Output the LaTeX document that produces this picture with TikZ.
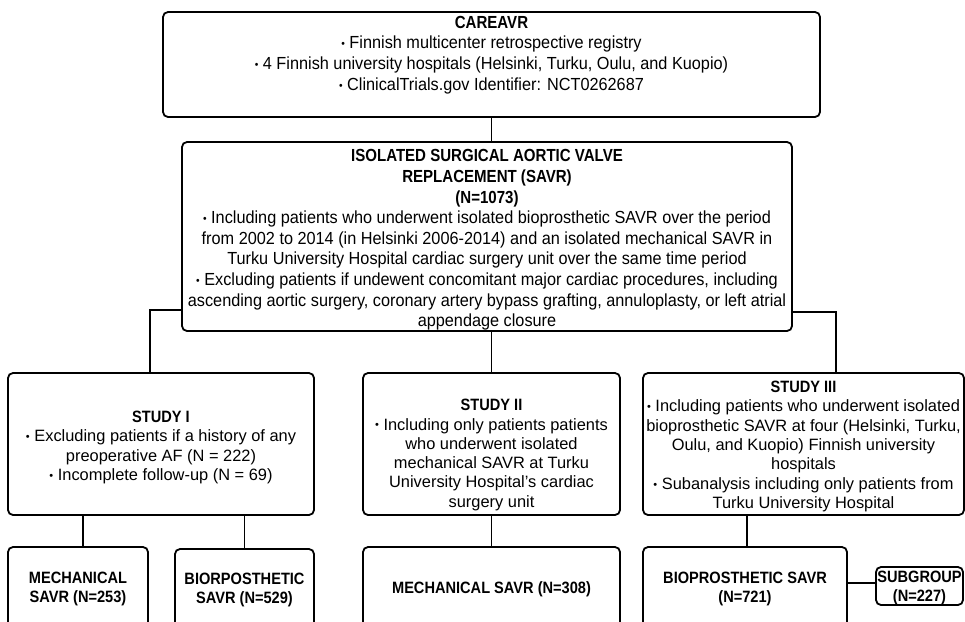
\documentclass[tikz,border=0pt]{standalone}
\usepackage{fontspec}
\setmainfont{Liberation Sans}
\newfontfamily\condfont{Liberation Sans}[FakeStretch=0.93]
\newfontfamily\condbf{Liberation Sans}[FakeStretch=0.86]
\newfontfamily\bodybf{Liberation Sans}[FakeStretch=0.89]
\usetikzlibrary{calc}
\newcommand{\bul}{{\fontsize{11}{11}\selectfont\raisebox{0.1em}{•}}\ }
\newcommand{\ctit}[1]{{\condbf\bfseries #1}}
\newcommand{\btit}[1]{{\bodybf\bfseries #1}}
\tikzset{
  box/.style={draw, line width=1.8pt, rounded corners=5pt, inner sep=0pt, align=center},
  conn/.style={line width=1.8pt},
  condtxt/.style={font=\condfont\fontsize{17.5}{20.6}\selectfont, align=center, inner sep=0pt},
  bodytxt/.style={font=\fontsize{16.4}{19.3}\selectfont, align=center, inner sep=0pt},
}
\begin{document}
\begin{tikzpicture}[x=1pt,y=-1pt]
\useasboundingbox (0,0) rectangle (965,621);
\clip (0,0) rectangle (965,621);
% boxes
\node[box, minimum width=657pt, minimum height=105pt] (top) at (491.5,64.5) {};
\node[condtxt] (toptxt) at (491.5,55) {\ctit{CAREAVR}\\
\bul Finnish multicenter retrospective registry\\
\bul 4 Finnish university hospitals (Helsinki, Turku, Oulu, and Kuopio)\\
\bul ClinicalTrials.gov Identifier: NCT0262687};
\node[box, minimum width=610pt, minimum height=189pt] (mid) at (487,236.5) {};
\node[condtxt] (midtxt) at (487,240) {\ctit{ISOLATED SURGICAL AORTIC VALVE}\\
\ctit{REPLACEMENT (SAVR)}\\
\ctit{(N=1073)}\\
\bul Including patients who underwent isolated bioprosthetic SAVR over the period\\
from 2002 to 2014 (in Helsinki 2006-2014) and an isolated mechanical SAVR in\\
Turku University Hospital cardiac surgery unit over the same time period\\
\bul Excluding patients if undewent concomitant major cardiac procedures, including\\
ascending aortic surgery, coronary artery bypass grafting, annuloplasty, or left atrial\\
appendage closure};
\node[box, minimum width=306pt, minimum height=142pt] (s1) at (161,444) {};
\node[bodytxt] (s1txt) at (161,447.5) {\btit{STUDY I}\\
\bul Excluding patients if a history of any\\
preoperative AF (N = 222)\\
\bul Incomplete follow-up (N = 69)};
\node[box, minimum width=257pt, minimum height=142pt] (s2) at (491.5,444) {};
\node[bodytxt] (s2txt) at (491.5,455) {\btit{STUDY II}\\
\bul Including only patients patients\\
who underwent isolated\\
mechanical SAVR at Turku\\
University Hospital's cardiac\\
surgery unit};
\node[box, minimum width=321pt, minimum height=142pt] (s3) at (803.5,444) {};
\node[bodytxt] (s3txt) at (803.5,446.5) {\btit{STUDY III}\\
\bul Including patients who underwent isolated\\
bioprosthetic SAVR at four (Helsinki, Turku,\\
Oulu, and Kuopio) Finnish university\\
hospitals\\
\bul Subanalysis including only patients from\\
Turku University Hospital};
\node[box, bodytxt, minimum width=140pt, minimum height=84pt] (m1) at (78,589) {\btit{MECHANICAL}\\ \btit{SAVR (N=253)}};
\node[box, bodytxt, minimum width=139pt, minimum height=82pt] (b1) at (244.5,590) {\btit{BIORPOSTHETIC}\\ \btit{SAVR (N=529)}};
\node[box, bodytxt, minimum width=257pt, minimum height=84pt] (m2) at (491.5,589) {\btit{MECHANICAL SAVR (N=308)}};
\node[box, bodytxt, minimum width=204pt, minimum height=84pt] (b3) at (745,589) {\btit{BIOPROSTHETIC SAVR}\\ \btit{(N=721)}};
\node[box, minimum width=87pt, minimum height=38pt] (sg) at (919.5,586) {};
\node[bodytxt] (sgtxt) at (919.5,588) {\btit{SUBGROUP}\\ \btit{(N=227)}};
% connectors
\draw[conn] (top.south) -- (top.south |- mid.north);
\draw[conn] ([yshift=22pt]mid.south west) -| ([xshift=-11pt]s1.north);
\draw[conn] (s2.north |- mid.south) -- (s2.north);
\draw[conn] ([yshift=20pt]mid.south east) -| ([xshift=32.5pt]s3.north);
\draw[conn] ([xshift=5pt]m1.north |- s1.south) -- ([xshift=5pt]m1.north);
\draw[conn] (b1.north |- s1.south) -- (b1.north);
\draw[conn] (s2.south) -- (m2.north);
\draw[conn] ([xshift=2pt]b3.north |- s3.south) -- ([xshift=2pt]b3.north);
\draw[conn] ([yshift=3pt]sg.west) -- ([yshift=3pt]sg.west -| b3.east);
\end{tikzpicture}
\end{document}
